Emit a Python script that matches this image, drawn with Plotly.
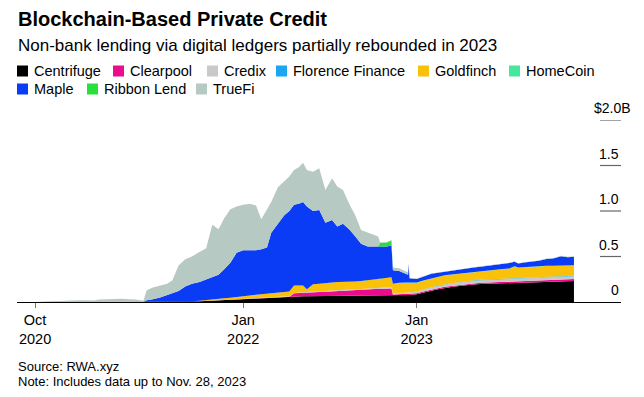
import plotly.graph_objects as go

# ---------------- data (values in $ billions) ----------------
dates = [
    "2020-10-20", "2020-11-05", "2020-11-20", "2020-12-05", "2020-12-20",
    "2021-01-05", "2021-01-20", "2021-02-05", "2021-02-20", "2021-03-05",
    "2021-03-20", "2021-04-05", "2021-04-20", "2021-05-05", "2021-05-20",
    "2021-06-05", "2021-06-12", "2021-06-25", "2021-07-10", "2021-07-25",
    "2021-08-05", "2021-08-18", "2021-09-01", "2021-09-15", "2021-10-01",
    "2021-10-15", "2021-10-28", "2021-11-10", "2021-11-22", "2021-12-05",
    "2021-12-18", "2022-01-01", "2022-01-15", "2022-01-28", "2022-02-08",
    "2022-02-20", "2022-03-01", "2022-03-15", "2022-03-28", "2022-04-08",
    "2022-04-18", "2022-04-28", "2022-05-07", "2022-05-15", "2022-05-28",
    "2022-06-10", "2022-06-23", "2022-07-07", "2022-07-18", "2022-07-30",
    "2022-08-12", "2022-08-25", "2022-09-06", "2022-09-20", "2022-10-05",
    "2022-10-12", "2022-10-16", "2022-10-30", "2022-11-09", "2022-11-12",
    "2022-11-25", "2022-12-08", "2022-12-14", "2022-12-15", "2022-12-17",
    "2023-01-01", "2023-01-15", "2023-02-01", "2023-02-15", "2023-03-01",
    "2023-03-15", "2023-04-01", "2023-04-15", "2023-05-01", "2023-05-15",
    "2023-06-01", "2023-06-15", "2023-07-01", "2023-07-15", "2023-07-26",
    "2023-08-03", "2023-08-15", "2023-09-01", "2023-09-15", "2023-10-01",
    "2023-10-15", "2023-11-01", "2023-11-15", "2023-11-28",
]

centrifuge = [0] * 23 + [
    .003, .007, .010, .012, .015, .020, .025, .028, .032, .036,
    .040, .043, .046, .050, .053, .056, .058, .060, .061, .062,
    .062, .063, .063, .064, .065, .065, .066, .067, .068, .069,
    .070, .070, .070, .070, .071, .071, .072, .074, .076, .077,
    .077, .078, .085, .105, .125, .140, .155, .165, .175, .185,
    .192, .197, .200, .203, .206, .208, .210, .211, .213, .216,
    .219, .222, .225, .228, .230, .232,
]

clearpool = [0] * 40 + [
    .035, .038, .040, .042, .045, .047, .048, .050, .052, .054,
    .058, .060, .063, .068, .072, .074, .075, .077, .078, .010,
    .010, .010, .010, .010, .010, .010, .010, .011, .011, .012,
    .012, .013, .013, .014, .014, .015, .015, .016, .016, .016,
    .017, .017, .018, .018, .019, .019, .020, .020, .020,
]

credix = [0] * 31 + [
    .003, .003, .004, .004, .004, .005, .005, .005, .005, .005,
    .006, .006, .006, .007, .007, .008, .008, .008, .009, .009,
    .010, .010, .011, .012, .012, .012, .013, .013, .015, .015,
    .016, .016, .016, .016, .018, .020, .022, .023, .024, .025,
    .026, .027, .028, .028, .029, .029, .030, .030, .030, .030,
    .030, .031, .031, .031, .031, .031, .031, .031,
]

florence_finance = [0] * 65 + [.003, .003, .004, .004, .004, .004, .004] + [.005] * 17

goldfinch = [0] * 22 + [
    .003, .005, .008, .010, .012, .015, .020, .022, .025, .030,
    .033, .036, .040, .043, .045, .047, .050, .052, .080, .075,
    .072, .030, .080, .083, .090, .092, .095, .091, .086, .087,
    .088, .091, .096, .104, .105, .109, .108, .100, .110, .110,
    .107, .107, .106, .094, .095, .095, .095, .095, .094, .092,
    .090, .091, .096, .101, .103, .103, .106, .129, .112, .115,
    .115, .117, .118, .115, .116, .114, .112,
]

homecoin = [0] * 56 + [.002, .003, .003] + [.003] * 30

maple = [0] * 16 + [
    .020, .030, .050, .080, .100, .120, .167, .192, .205, .230,
    .246, .270, .320, .383, .487, .505, .498, .490, .493, .507,
    .660, .755, .839, .885, .890, .900, .920, .910, .805, .810,
    .660, .685, .610, .640, .580, .495, .410, .370, .360, .350,
    .346, .337, .347, .150, .128, .095, .087, .200, .047, .040,
    .045, .050, .045, .040, .040, .040, .045, .045, .045, .045,
    .050, .055, .060, .050, .045, .050, .055, .060, .075, .080,
    .100, .090, .095,
]

ribbon_lend = [0] * 56 + [.040, .045, .055] + [0] * 30

truefi = [
    0, .004, .006, .008, .010, .012, .020, .018, .016, .028,
    .033, .030, .035, .030, .028, .015, .110, .130, .130, .120,
    .140, .280, .300, .300, .330, .340, .580, .500, .560, .590,
    .510, .500, .510, .490, .330, .420, .340, .400, .380, .380,
    .380, .400, .430, .400, .430, .460, .360, .460, .440, .370,
    .280, .230, .150, .150, .120, .110, .005, .005, .005, .030,
    .030, .030, .025, .025, .005,
] + [.004] * 24

series_names = ["Centrifuge", "Clearpool", "Credix", "Florence Finance", "Goldfinch",
                "HomeCoin", "Maple", "Ribbon Lend", "TrueFi"]
series_values = [centrifuge, clearpool, credix, florence_finance, goldfinch,
                 homecoin, maple, ribbon_lend, truefi]

x_tick_vals = ["2020-10-20", "2022-01-01", "2023-01-01"]
x_tick_text = ["Oct<br>2020", "Jan<br>2022", "Jan<br>2023"]
y_tick_vals = [0, 0.5, 1.0, 1.5, 2.0]
y_tick_text = ["0", "0.5", "1.0", "1.5", "$2.0B"]

# ---------------- styling ----------------
colors = ["#000000", "#ec0b8c", "#c9c9c9", "#1aa6f0", "#f9c10a",
          "#43e89a", "#0a3cf5", "#27e03d", "#b7c9c3"]
FONT = "Liberation Sans, Arial, sans-serif"

# the page body adds an 8px offset; figure is sized to fit the 644x397 window
OFF = 8
W, H = 628, 381
PL, PR, PT, PB = 17, 621, 120, 302  # plot area in window pixels


def pxx(p):
    return (p - PL) / (PR - PL)


def pxy(p):
    return (PB - p) / (PB - PT)


fig = go.Figure()
for name, vals, col in zip(series_names, series_values, colors):
    fig.add_trace(go.Scatter(
        x=dates, y=vals, name=name, mode="lines", stackgroup="one",
        line=dict(width=0, color=col), fillcolor=col,
        hoverinfo="skip", showlegend=False,
    ))

annotations = []
shapes = []

# title / subtitle
annotations.append(dict(text="<b>Blockchain-Based Private Credit</b>", x=pxx(16), y=pxy(19),
                        xref="paper", yref="paper", xanchor="left", yanchor="middle",
                        showarrow=False, font=dict(family=FONT, size=20, color="#000")))
annotations.append(dict(text="Non-bank lending via digital ledgers partially rebounded in 2023",
                        x=pxx(16), y=pxy(46), xref="paper", yref="paper",
                        xanchor="left", yanchor="middle", showarrow=False,
                        font=dict(family=FONT, size=17, color="#000")))

# custom legend
legend_pos = [(17, 71), (113, 71), (207, 71), (276, 71), (418, 71), (509, 71),
              (17, 89), (87, 89), (196, 89)]
for name, col, (lx, ly) in zip(series_names, colors, legend_pos):
    shapes.append(dict(type="rect", xref="paper", yref="paper",
                       x0=pxx(lx), x1=pxx(lx + 11), y0=pxy(ly + 5.5), y1=pxy(ly - 5.5),
                       fillcolor=col, line=dict(width=0)))
    annotations.append(dict(text=name, x=pxx(lx + 15), y=pxy(ly), xref="paper", yref="paper",
                            xanchor="left", yanchor="middle", showarrow=False,
                            font=dict(family=FONT, size=14.5, color="#000")))

# y-axis labels (above short dashes on the right)
for v, t in zip(y_tick_vals, y_tick_text):
    annotations.append(dict(text=t, x=1, y=v, xref="paper", yref="y",
                            xanchor="right", yanchor="bottom", yshift=2,
                            xshift=12 if t.endswith("B") else 0,
                            showarrow=False, font=dict(family=FONT, size=14, color="#000")))
    if v > 0:
        shapes.append(dict(type="line", xref="paper", yref="y", x0=pxx(600), x1=1,
                           y0=v, y1=v, line=dict(color="#666", width=1.2)))

# source / note
annotations.append(dict(text="Source: RWA.xyz", x=pxx(16), y=pxy(366), xref="paper", yref="paper",
                        xanchor="left", yanchor="middle", showarrow=False,
                        font=dict(family=FONT, size=13, color="#000")))
annotations.append(dict(text="Note: Includes data up to Nov. 28, 2023", x=pxx(16), y=pxy(381),
                        xref="paper", yref="paper", xanchor="left", yanchor="middle",
                        showarrow=False, font=dict(family=FONT, size=13, color="#000")))

fig.update_layout(
    width=W, height=H,
    margin=dict(l=PL - OFF, r=W - (PR - OFF), t=PT - OFF, b=H - (PB - OFF), pad=0),
    paper_bgcolor="white", plot_bgcolor="white",
    showlegend=False,
    annotations=annotations, shapes=shapes,
    xaxis=dict(range=["2020-09-12", "2024-03-06"], tickvals=x_tick_vals, ticktext=x_tick_text,
               showgrid=False, zeroline=False, showline=True, linecolor="#000", linewidth=1,
               ticks="outside", ticklen=5, tickcolor="#777", tickwidth=1,
               tickfont=dict(family=FONT, size=14.5, color="#000")),
    yaxis=dict(range=[0, 2.0], showgrid=False, zeroline=False, showticklabels=False,
               fixedrange=True),
)

fig.write_html("out.html")
